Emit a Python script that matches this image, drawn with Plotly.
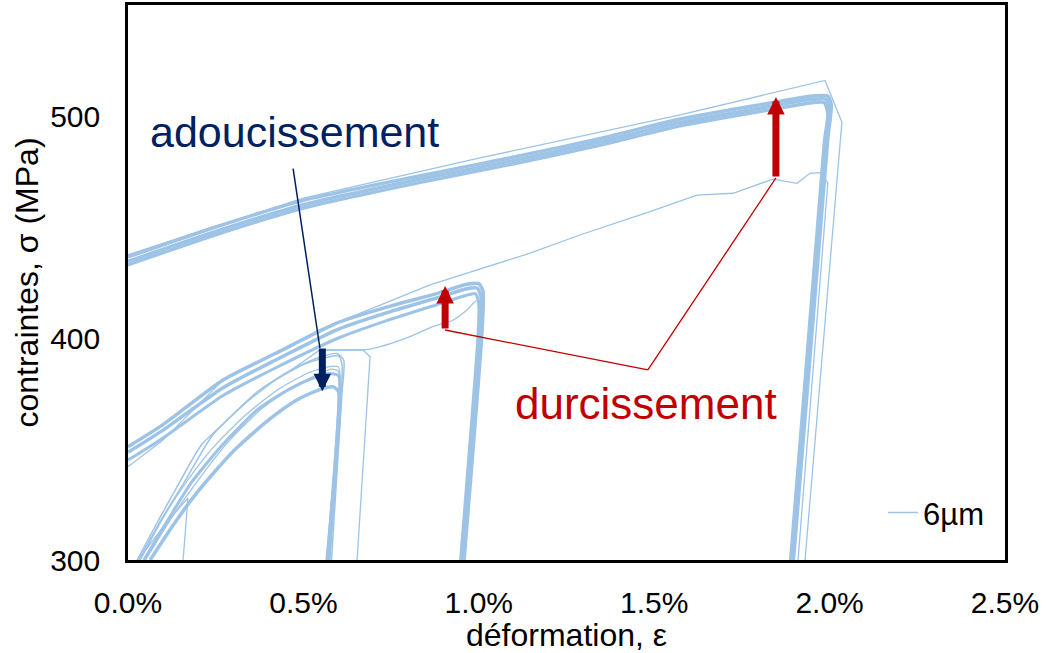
import plotly.graph_objects as go

# ---- data (strain in %, stress in MPa) ----
# upper group: loaded to ~2.0 %
a1_x = [0.0, 0.25, 0.5, 0.83, 1.1, 1.35, 1.57, 1.8, 1.95, 1.995, 2.005, 1.995, 1.897]
a1_y = [436.5, 450.0, 462.0, 473.0, 481.5, 490.0, 498.5, 505.0, 509.0, 509.0, 505.0, 490.0, 300.0]
a2_x = [0.0, 0.25, 0.5, 0.83, 1.1, 1.35, 1.57, 1.8, 1.95, 1.99, 2.0, 1.99, 1.893]
a2_y = [434.5, 448.0, 460.0, 471.5, 480.0, 488.5, 497.0, 503.5, 507.5, 507.5, 503.0, 490.0, 300.0]
a3_x = [0.0, 0.25, 0.5, 0.83, 1.1, 1.35, 1.57, 1.8, 1.95, 1.985, 1.995, 1.985, 1.889]
a3_y = [433.0, 446.5, 458.5, 470.0, 478.5, 487.0, 495.5, 502.0, 506.0, 506.0, 501.0, 488.0, 300.0]
a4_x = [0.0, 0.5, 1.0, 1.574, 1.987, 2.035, 1.93]
a4_y = [437.5, 463.0, 481.0, 500.5, 516.0, 497.3, 300.0]
t1_x = [0.0, 0.1, 0.27, 0.55, 0.861, 1.146, 1.288, 1.488, 1.622, 1.725, 1.839, 1.907, 1.944, 1.973, 1.995, 1.91]
t1_y = [342.0, 354.0, 381.0, 404.0, 423.9, 438.2, 446.4, 456.9, 464.4, 465.2, 471.6, 469.7, 474.2, 474.5, 470.0, 300.0]

# middle group: loaded to ~1.0 %
b1_x = [0.0, 0.1, 0.27, 0.42, 0.6, 0.75, 0.88, 0.96, 1.0, 1.012, 1.01, 0.958]
b1_y = [351.0, 361.0, 381.0, 393.0, 407.0, 414.5, 420.0, 424.0, 424.5, 421.0, 405.0, 300.0]
b2_x = [0.0, 0.1, 0.27, 0.42, 0.6, 0.75, 0.88, 0.96, 0.995, 1.006, 1.004, 0.953]
b2_y = [348.5, 358.5, 377.5, 390.0, 404.0, 412.0, 418.0, 422.0, 422.5, 419.0, 404.0, 300.0]
b3_x = [0.0, 0.1, 0.27, 0.42, 0.6, 0.75, 0.88, 0.96, 0.99, 1.0, 0.998, 0.948]
b3_y = [345.0, 355.0, 374.0, 386.5, 400.0, 408.5, 415.0, 419.0, 420.0, 416.0, 402.0, 300.0]
t3_x = [0.547, 0.69, 0.804, 0.869, 0.926, 0.966, 0.995, 1.0]
t3_y = [394.6, 395.0, 400.6, 405.1, 408.0, 412.6, 417.0, 410.0]

# lower group: loaded to ~0.6 %
c1_x = [0.063, 0.13, 0.2, 0.3, 0.4, 0.48, 0.55, 0.585, 0.6, 0.598, 0.572]
c1_y = [300.0, 316.0, 331.0, 349.0, 363.0, 372.0, 377.0, 378.0, 376.0, 360.0, 300.0]
c2_x = [0.045, 0.11, 0.18, 0.27, 0.368, 0.46, 0.53, 0.575, 0.6, 0.604, 0.567]
c2_y = [300.0, 317.0, 334.7, 352.0, 367.6, 377.0, 382.0, 384.0, 383.0, 370.0, 300.0]
c3_x = [0.03, 0.09, 0.16, 0.24, 0.33, 0.42, 0.5, 0.56, 0.6, 0.61, 0.607, 0.575]
c3_y = [300.0, 317.0, 335.0, 356.0, 370.0, 381.0, 388.0, 391.0, 392.0, 388.0, 372.0, 300.0]
c4_x = [0.026, 0.08, 0.14, 0.21, 0.274, 0.37, 0.465, 0.54, 0.596, 0.615, 0.61, 0.58]
c4_y = [300.0, 316.0, 333.0, 352.0, 361.7, 376.0, 385.6, 391.0, 393.0, 390.0, 375.0, 300.0]
c5_x = [0.035, 0.1, 0.17, 0.25, 0.34, 0.43, 0.51, 0.57, 0.6, 0.606, 0.57]
c5_y = [300.0, 319.0, 336.0, 352.0, 366.0, 377.0, 384.0, 387.0, 387.0, 375.0, 300.0]
c6_x = [0.05, 0.12, 0.2, 0.29, 0.38, 0.47, 0.54, 0.58, 0.6, 0.6, 0.566]
c6_y = [300.0, 318.0, 336.0, 354.0, 368.0, 378.0, 383.5, 386.0, 385.0, 372.0, 300.0]
t2_x = [0.465, 0.547, 0.67, 0.69, 0.653]
t2_y = [385.6, 394.6, 394.6, 391.5, 300.0]
t4_x = [0.03, 0.1, 0.171, 0.157]
t4_y = [300.0, 315.0, 328.0, 300.0]

x_ticks = [0.0, 0.5, 1.0, 1.5, 2.0, 2.5]
x_tick_text = ["0.0%", "0.5%", "1.0%", "1.5%", "2.0%", "2.5%"]
y_ticks = [300, 400, 500]

LINE = "#9DC3E6"
NAVY = "#002060"
RED = "#C00000"
FONT = "Liberation Sans, Arial, sans-serif"

fig = go.Figure()
series = [
    (a4_x, a4_y, 1.3, "linear"), (a1_x, a1_y, 3.5, "spline"), (a2_x, a2_y, 3.5, "spline"),
    (a3_x, a3_y, 3.5, "spline"), (t1_x, t1_y, 1.3, "linear"),
    (b1_x, b1_y, 3.5, "spline"), (b2_x, b2_y, 3.5, "spline"), (b3_x, b3_y, 3.0, "spline"),
    (t3_x, t3_y, 1.3, "spline"),
    (c1_x, c1_y, 3.5, "spline"), (c2_x, c2_y, 3.0, "spline"), (c3_x, c3_y, 1.5, "spline"),
    (c4_x, c4_y, 1.5, "spline"), (c5_x, c5_y, 1.3, "spline"), (c6_x, c6_y, 1.3, "spline"),
    (t2_x, t2_y, 1.3, "linear"), (t4_x, t4_y, 1.3, "linear"),
]
for i, (xs, ys, w, shp) in enumerate(series):
    line = dict(color=LINE, width=w, shape=shp)
    if shp == "spline":
        line["smoothing"] = 0.6
    fig.add_trace(go.Scatter(
        x=xs, y=ys, mode="lines", name="6µm", legendgroup="6um",
        showlegend=(i == 0), line=line,
    ))

# annotation arrows
ann = []
ann.append(dict(x=0.547, y=395.5, ax=0.47, ay=477.0, xref="x", yref="y", axref="x", ayref="y",
                text="", showarrow=True, arrowhead=0, arrowwidth=1.5, arrowcolor=NAVY))
ann.append(dict(x=0.554, y=376.0, ax=0.554, ay=396.0, xref="x", yref="y", axref="x", ayref="y",
                text="", showarrow=True, arrowhead=2, arrowsize=0.5, arrowwidth=7, arrowcolor=NAVY))
ann.append(dict(x=0.904, y=423.4, ax=0.904, ay=403.6, xref="x", yref="y", axref="x", ayref="y",
                text="", showarrow=True, arrowhead=2, arrowsize=0.5, arrowwidth=7, arrowcolor=RED))
ann.append(dict(x=1.847, y=508.6, ax=1.847, ay=472.1, xref="x", yref="y", axref="x", ayref="y",
                text="", showarrow=True, arrowhead=2, arrowsize=0.5, arrowwidth=7, arrowcolor=RED))
ann.append(dict(x=0.476, y=492.8, xref="x", yref="y", text="adoucissement", showarrow=False,
                font=dict(family=FONT, size=43, color=NAVY)))
ann.append(dict(x=1.478, y=370.5, xref="x", yref="y", text="durcissement", showarrow=False,
                font=dict(family=FONT, size=44, color=RED)))

shapes = [
    dict(type="line", xref="x", yref="y", x0=0.904, y0=403.6, x1=1.482, y1=385.6,
         line=dict(color=RED, width=1.3)),
    dict(type="line", xref="x", yref="y", x0=1.482, y0=385.6, x1=1.847, y1=472.1,
         line=dict(color=RED, width=1.3)),
]

fig.update_layout(
    width=1046, height=653,
    margin=dict(l=128, r=41, t=5, b=93, autoexpand=False),
    paper_bgcolor="white", plot_bgcolor="white",
    font=dict(family=FONT, size=30, color="black"),
    annotations=ann, shapes=shapes,
    legend=dict(x=0.861, y=0.085, xanchor="left", yanchor="middle",
                bgcolor="rgba(0,0,0,0)", font=dict(size=31)),
    showlegend=True,
)
fig.update_xaxes(
    range=[0, 2.5], tickvals=x_ticks, ticktext=x_tick_text,
    showgrid=False, zeroline=False, showline=True, linecolor="black", linewidth=2.5,
    mirror=True, ticks="", ticklabelstandoff=14, automargin=False,
    title=dict(text="déformation, ε", standoff=4, font=dict(size=32)),
)
fig.update_yaxes(
    range=[300, 550], tickvals=y_ticks,
    showgrid=False, zeroline=False, showline=True, linecolor="black", linewidth=2.5,
    mirror=True, ticks="", ticklabelstandoff=19, automargin=False,
    title=dict(text="contraintes, σ (MPa)", standoff=2, font=dict(size=32)),
)

fig.write_html("out.html", config={"displayModeBar": False},
               post_script="document.body.style.margin='0';")
